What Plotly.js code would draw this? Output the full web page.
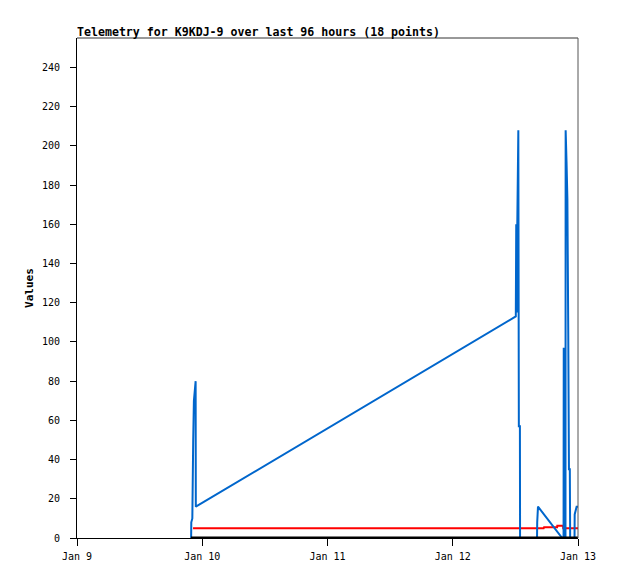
<!DOCTYPE html>
<html>
<head>
<meta charset="utf-8">
<script src="https://cdn.plot.ly/plotly-3.0.1.min.js"></script>
<style>html,body{margin:0;padding:0;background:#fff;}#chart{width:618px;height:579px;}</style>
</head>
<body>
<div id="chart"></div>
<script>
// Blue telemetry trace (all channels interleaved by time)
const blueTimes = [
  "2024-01-09 21:52","2024-01-09 21:54","2024-01-09 22:06","2024-01-09 22:08",
  "2024-01-09 22:16","2024-01-09 22:24","2024-01-09 22:36","2024-01-09 22:44","2024-01-09 22:46",
  "2024-01-12 12:05","2024-01-12 12:10","2024-01-12 12:16","2024-01-12 12:22","2024-01-12 12:34",
  "2024-01-12 12:40","2024-01-12 12:52","2024-01-12 12:54",
  "2024-01-12 16:09","2024-01-12 16:11","2024-01-12 16:20",
  "2024-01-12 20:58","2024-01-12 21:14","2024-01-12 21:16","2024-01-12 21:22",
  "2024-01-12 21:36","2024-01-12 21:38","2024-01-12 21:48","2024-01-12 21:58","2024-01-12 22:08",
  "2024-01-12 22:16","2024-01-12 22:26","2024-01-12 22:30",
  "2024-01-12 23:20","2024-01-12 23:22","2024-01-12 23:44","2024-01-13 00:00"
];
const blueValues = [
  0, 8, 10, 30,
  50, 70, 80, 80, 16,
  113, 160, 115, 160, 208,
  57, 57, 0,
  0, 8, 16,
  0, 0, 97, 0,
  0, 208, 192, 173, 104,
  35, 35, 0,
  0, 12, 16, 16
];
// Red trace
const redTimes = ["2024-01-09 22:14","2024-01-12 17:25","2024-01-12 17:30","2024-01-12 20:00",
  "2024-01-12 20:02","2024-01-12 21:08","2024-01-12 21:10","2024-01-13 00:00"];
const redValues = [5, 5, 5.5, 5.5, 6.2, 6.2, 5, 5];
// Black trace
const blackTimes = ["2024-01-09 21:50","2024-01-13 00:00"];
const blackValues = [0, 0];

const xTickVals = ["2024-01-09","2024-01-10","2024-01-11","2024-01-12","2024-01-13"];
const xTickText = ["Jan 9","Jan 10","Jan 11","Jan 12","Jan 13"];
const yTickVals = [0,20,40,60,80,100,120,140,160,180,200,220,240];

const mono = "DejaVu Sans Mono, monospace";

const traces = [
  {x: redTimes, y: redValues, mode: "lines", line: {color: "#ff0000", width: 2}, hoverinfo: "skip"},
  {x: blueTimes, y: blueValues, mode: "lines", line: {color: "#0066cc", width: 2}, hoverinfo: "skip"},
  {x: blackTimes, y: blackValues, mode: "lines", line: {color: "#000000", width: 3}, hoverinfo: "skip"}
];

const layout = {
  width: 618, height: 579,
  margin: {l: 77, r: 40, t: 38, b: 41},
  paper_bgcolor: "#ffffff", plot_bgcolor: "#ffffff",
  showlegend: false,
  font: {family: mono, size: 10, color: "#000"},
  title: {text: "<b>Telemetry for K9KDJ-9 over last 96 hours (18 points)</b>",
    font: {family: mono, size: 11.6, color: "#000"},
    x: 77/618, xref: "container", xanchor: "left", y: 1 - 31.5/579, yref: "container", yanchor: "middle"},
  xaxis: {
    type: "date", range: ["2024-01-09 00:00","2024-01-13 00:00"],
    tickmode: "array", tickvals: xTickVals, ticktext: xTickText,
    ticks: "outside", ticklen: 7, tickcolor: "#000", tickwidth: 1,
    ticklabelstandoff: 2,
    showgrid: false, zeroline: false, showline: true, linecolor: "#000", linewidth: 1,
    tickfont: {family: mono, size: 10}, fixedrange: true
  },
  yaxis: {
    range: [0, 255],
    tickmode: "array", tickvals: yTickVals,
    ticks: "outside", ticklen: 6, tickcolor: "#000", tickwidth: 1,
    ticklabelstandoff: 8,
    showgrid: false, zeroline: false, showline: true, linecolor: "#000", linewidth: 1,
    tickfont: {family: mono, size: 10},
    title: {text: "<b>Values</b>", font: {family: mono, size: 11}, standoff: 6},
    fixedrange: true
  },
  shapes: [
    {type: "line", xref: "paper", yref: "paper", x0: 0, x1: 1, y0: 1, y1: 1, line: {color: "#333", width: 1}},
    {type: "line", xref: "paper", yref: "paper", x0: 1, x1: 1, y0: 0, y1: 1, line: {color: "#555", width: 1}}
  ]
};

Plotly.newPlot("chart", traces, layout, {staticPlot: true, displayModeBar: false});
</script>
</body>
</html>
